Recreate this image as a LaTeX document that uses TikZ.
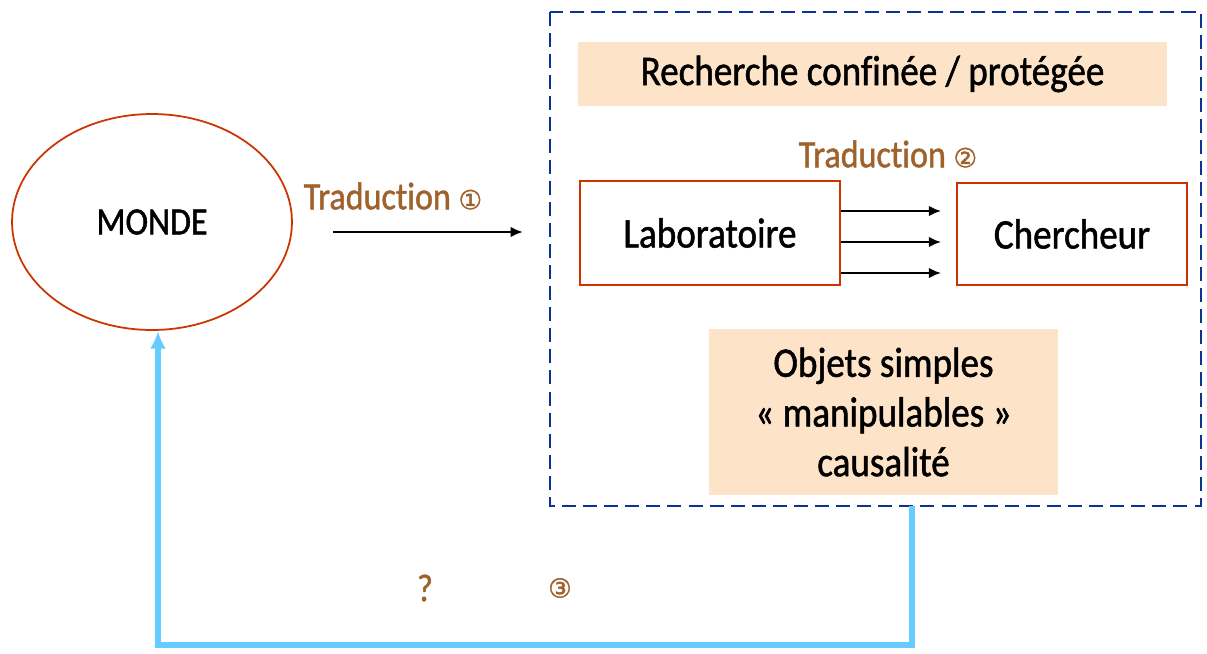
\documentclass[tikz,border=0pt]{standalone}
\usepackage{fontspec}
\setmainfont[FakeStretch=0.88, FakeBold=1.2, Ligatures=NoCommon]{Carlito}
\newfontfamily\circfont[FakeBold=1.5]{DejaVu Sans}
\usetikzlibrary{arrows.meta, shapes.geometric, positioning}
\definecolor{rouille}{HTML}{CC3300}
\definecolor{brun}{HTML}{A0622D}
\definecolor{peche}{HTML}{FDE3C8}
\definecolor{bleufonce}{HTML}{0D3296}
\definecolor{ciel}{HTML}{66CCFF}

\begin{document}
\begin{tikzpicture}[
      x=0.02cm, y=-0.02cm,
      >={Latex[length=7pt,width=6pt]},
      txt/.style={font=\fontsize{24}{28}\selectfont},
      trad/.style={font=\fontsize{22}{26}\selectfont, text=brun},
      boite/.style={draw=rouille, line width=1.4pt, txt},
      pastel/.style={fill=peche, txt, align=center},
      fleche/.style={line width=1.6pt, ->},
      retour/.style={line width=3pt, ciel, -{Latex[length=10pt,width=9pt]}}
    ]
    \useasboundingbox (0,0) rectangle (1207,653);

    % Le monde
    \node[ellipse, draw=rouille, line width=1pt, minimum width=5.6cm, minimum height=4.32cm, font=\fontsize{22}{26}\selectfont] (monde) at (152,222) {MONDE};

    % Traduction 1
    \node[trad] (trad1) at (393,196) {Traduction {\circfont\fontsize{15}{18}\selectfont ①}};
    \coordinate (t1a) at (333,232);
    \coordinate (t1b) at (523,232);
    \draw[fleche] (t1a) -- (t1b);

    % Recherche confinee
    \draw[bleufonce, line width=1.3pt, dash pattern=on 8pt off 4pt] (550,12) rectangle (1201,506);
    \node[pastel, minimum width=11.78cm, minimum height=1.28cm] (confine) at (872.5,74) {Recherche confinée / protégée};
    \node[boite, minimum width=5.2cm, minimum height=2.08cm] (labo) at (710,233) {Laboratoire};
    \node[boite, minimum width=4.6cm, minimum height=2.04cm] (cherch) at (1072,234) {Chercheur};
    \node[trad] (trad2) at (888,154) {Traduction {\circfont\fontsize{15}{18}\selectfont ②}};
    \foreach \dy in {-0.44,0.18,0.8}
      \draw[fleche] ([yshift=-\dy cm]labo.east) -- ++(2cm,0);
    \node[pastel, minimum width=6.98cm, minimum height=3.32cm] (objets) at (883.5,412) {Objets simples\\[0.01cm]« manipulables »\\[0.01cm]causalité};

    % Retour vers le monde
    \coordinate (sortie) at (912,506);
    \coordinate (bas) at (912,645);
    \coordinate (arrivee) at (158,331);
    \draw[retour] (sortie) -- (bas) -| (arrivee);
    \node[trad] (quest) at (425,588) {?};
    \node[trad, font=\circfont\fontsize{15}{18}\selectfont] (trad3) at (560,588) {③};
  \end{tikzpicture}
\end{document}
